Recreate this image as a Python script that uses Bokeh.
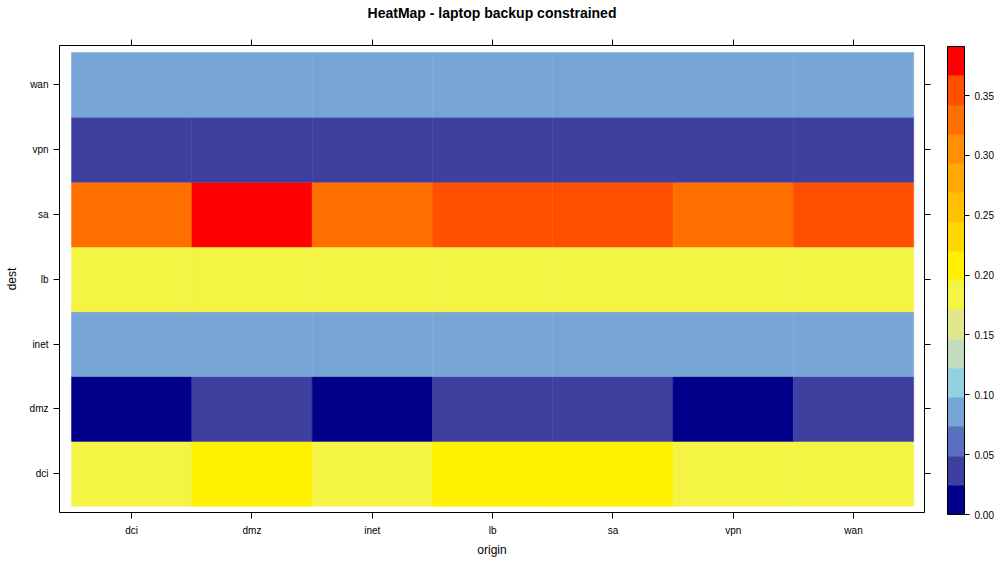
from bokeh.plotting import figure
from bokeh.models import (Range1d, LinearAxis, FixedTicker, LinearColorMapper,
                          ColorBar, ColumnDataSource, PrintfTickFormatter)
from bokeh.transform import transform
from bokeh.embed import file_html
from bokeh.resources import INLINE

# ---- data ----
origins = ["dci", "dmz", "inet", "lb", "sa", "vpn", "wan"]
dests = ["dci", "dmz", "inet", "lb", "sa", "vpn", "wan"]

# values per destination row, in origin order
val_dci = [0.185, 0.207, 0.185, 0.207, 0.207, 0.185, 0.185]
val_dmz = [0.000, 0.037, 0.004, 0.037, 0.037, 0.002, 0.037]
val_inet = [0.085, 0.085, 0.085, 0.085, 0.085, 0.085, 0.085]
val_lb = [0.185, 0.185, 0.185, 0.185, 0.185, 0.185, 0.185]
val_sa = [0.330, 0.391, 0.330, 0.355, 0.355, 0.330, 0.355]
val_vpn = [0.037, 0.037, 0.037, 0.037, 0.037, 0.037, 0.037]
val_wan = [0.085, 0.085, 0.085, 0.085, 0.085, 0.085, 0.085]

rows = {"dci": val_dci, "dmz": val_dmz, "inet": val_inet, "lb": val_lb,
        "sa": val_sa, "vpn": val_vpn, "wan": val_wan}

palette = ["#00008B", "#3F3FA0", "#5B6EC0", "#76A5D6", "#93D0E0", "#C2DDBB",
           "#E2E78E", "#F4F444", "#FFF000", "#FFD700", "#FFC000", "#FFAA00",
           "#FF8E00", "#FF7000", "#FF5000", "#FF0000"]
z_low, z_high = 0.0, 0.391
cbar_ticks = [0.00, 0.05, 0.10, 0.15, 0.20, 0.25, 0.30, 0.35]
title_text = "HeatMap - laptop backup constrained"

xs, ys, zs = [], [], []
for j, d in enumerate(dests):
    for i, o in enumerate(origins):
        xs.append(i + 1)
        ys.append(j + 1)
        zs.append(rows[d][i])
src = ColumnDataSource(dict(x=xs, y=ys, z=zs))

FONT = "Liberation Sans"

p = figure(frame_width=865, frame_height=467,
           x_range=Range1d(0.40, 7.59), y_range=Range1d(0.403, 7.608),
           output_backend="svg", toolbar_location=None,
           x_axis_location=None, y_axis_location=None,
           min_border_left=59, min_border_right=76, min_border_top=45,
           min_border_bottom=54)
p.grid.visible = False
p.outline_line_color = "black"
p.outline_line_width = 1
p.background_fill_color = "white"

mapper = LinearColorMapper(palette=palette, low=z_low, high=z_high)
p.rect(x="x", y="y", width=1, height=1, source=src,
       fill_color=transform("z", mapper), line_color=transform("z", mapper),
       line_width=0.5)

ticks = list(range(1, len(origins) + 1))


def mk_axis(labels, show):
    ax = LinearAxis(ticker=FixedTicker(ticks=ticks))
    ax.axis_line_color = None
    ax.major_tick_in = 0
    ax.major_tick_out = 6
    ax.major_tick_line_color = "black"
    ax.minor_tick_line_color = None
    if show:
        ax.major_label_overrides = {t: lab for t, lab in zip(ticks, labels)}
        ax.major_label_text_font = FONT
        ax.major_label_text_font_size = "10px"
        ax.major_label_text_color = "black"
    else:
        ax.major_label_overrides = {t: "" for t in ticks}
        ax.major_label_text_color = None
        ax.major_label_standoff = 0
    return ax


bottom = mk_axis(origins, True)
bottom.axis_label = "origin"
bottom.axis_label_text_font = FONT
bottom.axis_label_text_font_size = "12px"
bottom.axis_label_text_font_style = "normal"
bottom.axis_label_text_color = "black"
bottom.axis_label_standoff = 4
bottom.major_label_standoff = 6
p.add_layout(bottom, "below")

left = mk_axis(dests, True)
left.axis_label = "dest"
left.axis_label_text_font = FONT
left.axis_label_text_font_size = "12px"
left.axis_label_text_font_style = "normal"
left.axis_label_text_color = "black"
left.major_label_standoff = 5
left.axis_label_standoff = 8
p.add_layout(left, "left")

p.add_layout(mk_axis(origins, False), "above")
p.add_layout(mk_axis(dests, False), "right")

# colour key, placed just right of the panel (offsets in screen px from frame)
cbar = ColorBar(color_mapper=mapper, width=17, height=468,
                location=(888, -2),
                ticker=FixedTicker(ticks=cbar_ticks),
                formatter=PrintfTickFormatter(format="%.2f"),
                major_tick_in=0, major_tick_out=5,
                major_tick_line_color="black",
                bar_line_color="black", bar_line_width=1,
                major_label_text_font=FONT,
                major_label_text_font_size="10px",
                major_label_text_color="black",
                label_standoff=5, margin=0, padding=0,
                background_fill_alpha=0, border_line_color=None)
p.add_layout(cbar)

p.title.text = title_text
p.title.align = "center"
p.title.text_font = FONT
p.title.text_font_size = "14px"
p.title.text_font_style = "bold"
p.title.text_color = "black"
p.title.standoff = 0
p.title.padding = dict(left=0, right=0, top=0, bottom=19)

open("out.html", "w").write(file_html(p, INLINE))
